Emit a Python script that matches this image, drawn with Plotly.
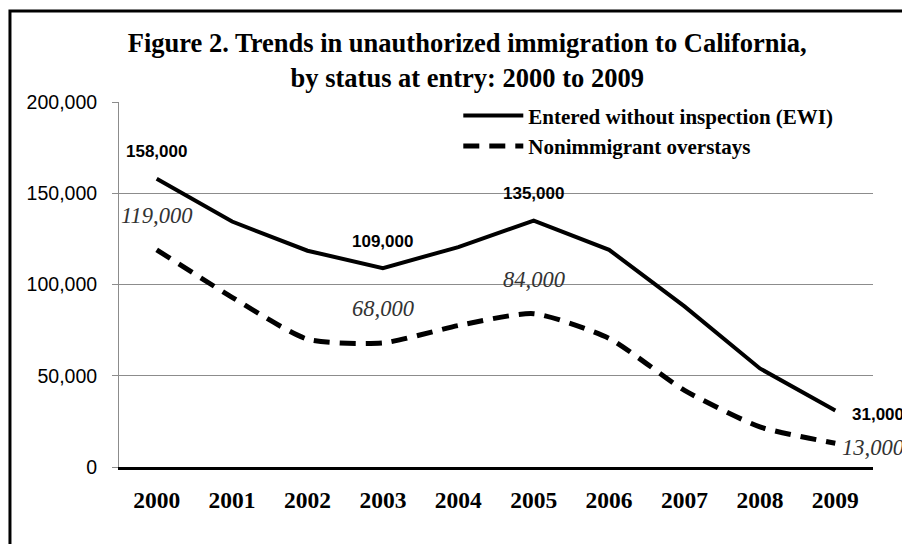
import plotly.graph_objects as go

years = ["2000", "2001", "2002", "2003", "2004", "2005", "2006", "2007", "2008", "2009"]
ewi = [158000, 134500, 118500, 109000, 120500, 135000, 119000, 88000, 54000, 31000]
overstays = [119000, 93000, 70000, 68000, 77500, 84000, 70500, 42000, 22000, 13000]
ewi_labels = {"2000": "158,000", "2003": "109,000", "2005": "135,000", "2009": "31,000"}
ovs_labels = {"2000": "119,000", "2003": "68,000", "2005": "84,000", "2009": "13,000"}
y_ticks = [0, 50000, 100000, 150000, 200000]
y_ticktext = ["0", "50,000", "100,000", "150,000", "200,000"]

fig = go.Figure()
fig.add_trace(go.Scatter(x=years, y=ewi, mode="lines", name="Entered without inspection (EWI)",
                         line=dict(color="black", width=4)))
fig.add_trace(go.Scatter(x=years, y=overstays, mode="lines", name="Nonimmigrant overstays",
                         line=dict(color="black", width=5, dash="16px,10px", shape="spline", smoothing=0.6)))

bold_font = dict(family="Liberation Sans", size=17, color="black", weight="bold")
ital_font = dict(family="Liberation Serif", size=22.5, color="#333333", style="italic")
ann = []
for yr, txt in ewi_labels.items():
    i = years.index(yr)
    if yr == "2009":
        ann.append(dict(x=i, y=ewi[i], text=txt, showarrow=False, xanchor="left", xshift=15, yshift=-4,
                        font=bold_font))
    else:
        ann.append(dict(x=i, y=ewi[i], text=txt, showarrow=False, yshift=27, font=bold_font))
for yr, txt in ovs_labels.items():
    i = years.index(yr)
    if yr == "2009":
        ann.append(dict(x=i, y=overstays[i], text=txt, showarrow=False, xanchor="left", xshift=5, yshift=-4,
                        font=ital_font))
    else:
        ann.append(dict(x=i, y=overstays[i], text=txt, showarrow=False, yshift=34, font=ital_font))

fig.update_layout(
    width=902, height=544,
    margin=dict(l=119, r=29, t=102, b=77),
    paper_bgcolor="white", plot_bgcolor="white",
    title=dict(text="Figure 2. Trends in unauthorized immigration to California,<br>by status at entry: 2000 to 2009",
               x=0.518, xanchor="center", y=0.904, yanchor="top",
               font=dict(family="Liberation Serif", size=26.5, color="black", weight="bold")),
    showlegend=True,
    legend=dict(x=0.45, y=1.018, xanchor="left", yanchor="top", bgcolor="rgba(0,0,0,0)",
                font=dict(family="Liberation Serif", size=21, color="black", weight="bold"),
                tracegroupgap=0, itemwidth=60),
    annotations=ann,
    xaxis=dict(type="category", range=[-0.5, 9.5], showgrid=False, showline=True, linecolor="black",
               linewidth=3, ticks="", tickfont=dict(family="Liberation Serif", size=23.5, color="black", weight="bold"),
               ticklabelstandoff=10),
    yaxis=dict(range=[0, 200000], tickvals=y_ticks, ticktext=y_ticktext, showgrid=True, gridcolor="#8c8c8c",
               gridwidth=1, showline=True, linecolor="#8c8c8c", linewidth=1, ticks="outside", ticklen=6,
               tickcolor="#8c8c8c", tickfont=dict(family="Liberation Sans", size=19.5, color="black"),
               zeroline=False, ticklabelstandoff=11),
    shapes=[dict(type="rect", xref="paper", yref="paper", x0=-0.1446, x1=1.08, y0=-0.3, y1=1.249,
                 line=dict(color="black", width=3), fillcolor="rgba(0,0,0,0)", layer="above")],
)
fig.write_html("out.html", config={"displayModeBar": False},
               post_script="document.body.style.margin='0';document.body.style.overflow='hidden';")
